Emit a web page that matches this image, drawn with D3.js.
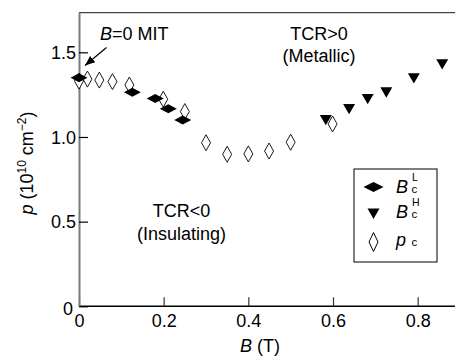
<!DOCTYPE html>
<html>
<head>
<meta charset="utf-8">
<script src="https://cdn.jsdelivr.net/npm/d3@7"></script>
<style>
  body { margin: 0; background: #fff; }
  svg text { font-family: "Liberation Sans", Arial, sans-serif; fill: #000; }
</style>
</head>
<body>
<div id="plot"></div>
<script>
// data
const bcLowB = [0, 0.126, 0.18, 0.211, 0.245];
const bcLowP = [1.35, 1.264, 1.228, 1.167, 1.10];

const bcHighB = [0.583, 0.638, 0.682, 0.726, 0.791, 0.858];
const bcHighP = [1.11, 1.175, 1.234, 1.273, 1.356, 1.439];

const pcB = [0, 0.02, 0.048, 0.079, 0.119, 0.199, 0.25, 0.30, 0.35, 0.40, 0.449, 0.50, 0.599];
const pcP = [1.33, 1.342, 1.336, 1.327, 1.307, 1.223, 1.15, 0.966, 0.898, 0.90, 0.917, 0.969, 1.077];

const xTicks = [0, 0.2, 0.4, 0.6, 0.8];
const xTickLabels = ["0", "0.2", "0.4", "0.6", "0.8"];
const yTicks = [0, 0.5, 1.0, 1.5];
const yTickLabels = ["0", "0.5", "1.0", "1.5"];

const width = 455, height = 356;

const x = d3.scaleLinear().domain([0, 0.9]).range([79, 460]);
const y = d3.scaleLinear().domain([0, 1.734]).range([306.3, 12.7]);

const svg = d3.select("#plot").append("svg")
    .attr("width", width)
    .attr("height", height);

// frame: top line, left axis (gray), bottom axis (black)
svg.append("line")
    .attr("x1", x(0)).attr("x2", width)
    .attr("y1", y(1.734)).attr("y2", y(1.734))
    .attr("stroke", "#444").attr("stroke-width", 1.2);

const xAxis = d3.axisBottom(x).tickValues(xTicks).tickSize(-9).tickSizeOuter(0).tickFormat((d, i) => xTickLabels[i]);
const gx = svg.append("g")
    .attr("transform", `translate(0,${y(0)})`)
    .call(xAxis);
gx.select(".domain").attr("stroke", "#000").attr("stroke-width", 1.5).attr("d", `M${x(0)},0H${width}`);
gx.selectAll(".tick line").attr("stroke", "#333").attr("stroke-width", 1.2);
gx.selectAll(".tick text")
    .attr("y", 8).attr("dy", "0.71em")
    .style("font-size", "18px")
    .style("font-family", "'Liberation Sans', Arial, sans-serif");

const yAxis = d3.axisLeft(y).tickValues(yTicks).tickSize(-9).tickSizeOuter(0).tickFormat((d, i) => yTickLabels[i]);
const gy = svg.append("g")
    .attr("transform", `translate(${x(0)},0)`)
    .call(yAxis);
gy.select(".domain").attr("stroke", "#7a7a7a").attr("stroke-width", 2);
gy.selectAll(".tick line").attr("stroke", "#000").attr("stroke-width", 1.2);
gy.selectAll(".tick text")
    .attr("x", -3).attr("dy", "0.34em")
    .style("font-size", "18px")
    .style("font-family", "'Liberation Sans', Arial, sans-serif");
gy.selectAll(".tick").filter(d => d === 0).select("text").attr("x", -6).attr("dy", "0.45em");

// markers
const triangle = d3.symbol().type(d3.symbolTriangle).size(62)();
svg.append("g").selectAll("path")
    .data(d3.zip(bcHighB, bcHighP))
    .join("path")
    .attr("d", triangle)
    .attr("transform", d => `translate(${x(d[0])},${y(d[1])}) rotate(180)`)
    .attr("fill", "#000");

function diamond(w, h) {
  return `M0,${-h / 2}L${w / 2},0L0,${h / 2}L${-w / 2},0Z`;
}

svg.append("g").selectAll("path")
    .data(d3.zip(pcB, pcP))
    .join("path")
    .attr("d", diamond(9, 16))
    .attr("transform", d => `translate(${x(d[0])},${y(d[1])})`)
    .attr("fill", "#fff")
    .attr("stroke", "#000")
    .attr("stroke-width", 0.9);

svg.append("g").selectAll("path")
    .data(d3.zip(bcLowB, bcLowP))
    .join("path")
    .attr("d", diamond(17, 9))
    .attr("transform", d => `translate(${x(d[0])},${y(d[1])})`)
    .attr("fill", "#000");

// annotations
const mit = svg.append("text").attr("x", 100).attr("y", 39.5).style("font-size", "18px");
mit.append("tspan").style("font-style", "italic").text("B");
mit.append("tspan").text("=0 MIT");

svg.append("defs").append("marker")
    .attr("id", "arrow")
    .attr("viewBox", "0 0 10 10")
    .attr("refX", 10).attr("refY", 5)
    .attr("markerWidth", 10).attr("markerHeight", 10)
    .attr("markerUnits", "userSpaceOnUse")
    .attr("orient", "auto")
    .append("path").attr("d", "M0,1L10,5L0,9Z").attr("fill", "#000");

svg.append("line")
    .attr("x1", 106.5).attr("y1", 47.5)
    .attr("x2", 85).attr("y2", 65.5)
    .attr("stroke", "#000").attr("stroke-width", 1.2)
    .attr("marker-end", "url(#arrow)");

function twoLine(cx, y1, y2, a, b) {
  svg.append("text").attr("x", cx).attr("y", y1).attr("text-anchor", "middle").style("font-size", "18px").text(a);
  svg.append("text").attr("x", cx).attr("y", y2).attr("text-anchor", "middle").style("font-size", "18px").text(b);
}
twoLine(319, 40, 61.5, "TCR>0", "(Metallic)");
twoLine(181.5, 216.5, 239.5, "TCR<0", "(Insulating)");

// legend
svg.append("rect")
    .attr("x", 354).attr("y", 169)
    .attr("width", 83).attr("height", 93)
    .attr("fill", "#fff").attr("stroke", "#000").attr("stroke-width", 1);

const legRows = [187, 212, 242];
svg.append("path").attr("d", diamond(20, 10)).attr("transform", `translate(373.5,${legRows[0]})`).attr("fill", "#000");
svg.append("path").attr("d", triangle).attr("transform", `translate(373.5,${legRows[1]}) rotate(180)`).attr("fill", "#000");
svg.append("path").attr("d", diamond(9, 19)).attr("transform", `translate(373.5,${legRows[2]})`)
    .attr("fill", "#fff").attr("stroke", "#000");

function legLabel(row, main, sup, sub) {
  svg.append("text").attr("x", 396).attr("y", row + 5.5).style("font-size", "18px").style("font-style", "italic").text(main);
  if (sup) svg.append("text").attr("x", 412).attr("y", row - 6).style("font-size", "10.5px").text(sup);
  svg.append("text").attr("x", 411.5).attr("y", row + 6).style("font-size", "11.5px").text(sub);
}
legLabel(legRows[0], "B", "L", "c");
legLabel(legRows[1], "B", "H", "c");
legLabel(legRows[2] - 2, "p", null, "c");

// axis titles
const xl = svg.append("text").attr("x", 260).attr("y", 351.5).attr("text-anchor", "middle").style("font-size", "18px");
xl.append("tspan").style("font-style", "italic").text("B");
xl.append("tspan").text(" (T)");

const yl = svg.append("text")
    .attr("transform", "translate(33,163) rotate(-90)")
    .attr("text-anchor", "middle")
    .style("font-size", "18px");
yl.append("tspan").style("font-style", "italic").text("p");
yl.append("tspan").text(" (10");
yl.append("tspan").attr("dy", -7).style("font-size", "12px").text("10");
yl.append("tspan").attr("dy", 7).text(" cm");
yl.append("tspan").attr("dy", -7).style("font-size", "12px").text("−2");
yl.append("tspan").attr("dy", 7).text(")");
</script>
</body>
</html>
